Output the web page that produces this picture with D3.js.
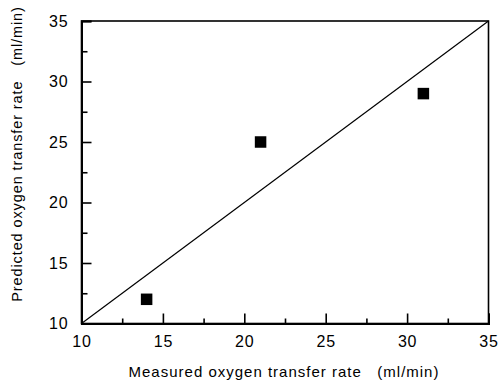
<!DOCTYPE html>
<html><head><meta charset="utf-8">
<script src="https://cdn.jsdelivr.net/npm/d3@7"></script>
<style>body{margin:0;background:#fff}svg{display:block}text{font-family:"Liberation Sans",Arial,sans-serif;fill:#000}</style>
</head><body>
<svg id="c" width="501" height="383"></svg>
<script>
const measured = [14, 21, 31];
const predicted = [12, 25, 29];
const ticks = [10, 15, 20, 25, 30, 35];
const minorTicks = [12.5, 17.5, 22.5, 27.5, 32.5];
const lineData = [[10, 10], [35, 35]];
const xTitle = "Measured oxygen transfer rate   (ml/min)";
const yTitle = "Predicted oxygen transfer rate   (ml/min)";

const svg = d3.select("#c");
const L = 81.5, R = 488.5, T = 21, B = 323.5;
const x = d3.scaleLinear().domain([10, 35]).range([L, R]);
const y = d3.scaleLinear().domain([10, 35]).range([B, T]);

// frame
svg.append("rect").attr("x", L).attr("y", T).attr("width", R - L).attr("height", B - T)
  .attr("fill", "none").attr("stroke", "#000").attr("stroke-width", 1.6);

// bottom axis
const gx = svg.append("g").attr("transform", `translate(0,${B})`)
  .call(d3.axisBottom(x).tickValues(ticks).tickSize(-10).tickPadding(12).tickFormat(d3.format("d")));
gx.select(".domain").attr("stroke-width", 2);
gx.selectAll(".tick line").attr("stroke-width", 1.6);
gx.selectAll(".tick text").attr("font-size", 16).attr("letter-spacing", "0.8px").attr("font-family", "Liberation Sans, Arial, sans-serif");
svg.append("g").attr("transform", `translate(0,${B})`)
  .call(d3.axisBottom(x).tickValues(minorTicks).tickSize(-5).tickFormat(""))
  .call(g => g.select(".domain").remove())
  .selectAll(".tick line").attr("stroke-width", 1.6);

// left axis
const gy = svg.append("g").attr("transform", `translate(${L},0)`)
  .call(d3.axisLeft(y).tickValues(ticks).tickSize(-10).tickPadding(13).tickFormat(d3.format("d")));
gy.select(".domain").attr("stroke-width", 2);
gy.selectAll(".tick line").attr("stroke-width", 1.6);
gy.selectAll(".tick text").attr("font-size", 16).attr("letter-spacing", "0.8px").attr("font-family", "Liberation Sans, Arial, sans-serif");
svg.append("g").attr("transform", `translate(${L},0)`)
  .call(d3.axisLeft(y).tickValues(minorTicks).tickSize(-6).tickFormat(""))
  .call(g => g.select(".domain").remove())
  .selectAll(".tick line").attr("stroke-width", 1.6);

// diagonal line
svg.append("path").datum(lineData)
  .attr("d", d3.line().x(d => x(d[0])).y(d => y(d[1])))
  .attr("fill", "none").attr("stroke", "#000").attr("stroke-width", 1.2);

// points
const s = 11.5;
svg.selectAll("rect.pt").data(measured.map((m, i) => [m, predicted[i]])).enter()
  .append("rect").attr("class", "pt")
  .attr("x", d => x(d[0]) - s / 2).attr("y", d => y(d[1]) - s / 2)
  .attr("width", s).attr("height", s).attr("fill", "#000");

// titles
svg.append("text").attr("x", 284).attr("y", 377).attr("text-anchor", "middle")
  .attr("font-size", 15).attr("letter-spacing", "1px").style("white-space", "pre").text(xTitle);
svg.append("text").attr("transform", "translate(22,154) rotate(-90)").attr("text-anchor", "middle")
  .attr("font-size", 14.5).attr("letter-spacing", "0.9px").style("white-space", "pre").text(yTitle);
</script>
</body></html>
